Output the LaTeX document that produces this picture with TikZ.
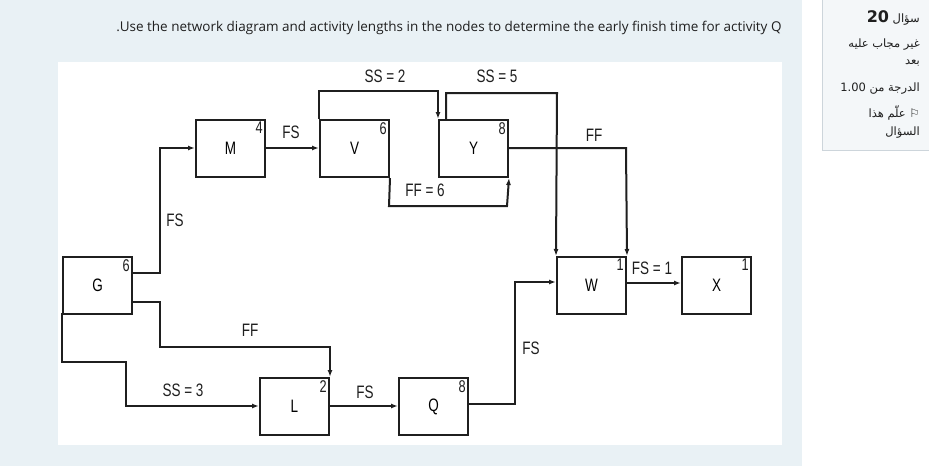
\documentclass[tikz,border=0pt]{standalone}
\usepackage{fontspec}
\setmainfont{Liberation Sans}
\newfontfamily\arabicfont[Script=Arabic]{DejaVu Sans}
\newfontfamily\titlefont{Open Sans}
\newfontfamily\narrowfont[FakeStretch=0.75]{Liberation Sans}
\TeXXeTstate=1
\definecolor{panel}{HTML}{E9F1F5}
\definecolor{side}{HTML}{F4F7F9}
\definecolor{sideborder}{HTML}{CDD5DB}
\definecolor{ink}{HTML}{1F1F1F}
\begin{document}
\begin{tikzpicture}[x=1pt,y=-1pt,
  act/.style={draw=ink,line width=2pt,minimum width=69pt,minimum height=57pt,anchor=north west,inner sep=0pt,font=\narrowfont\fontsize{18}{18}\selectfont},
  lnk/.style={draw=ink,line width=2pt,-{Latex[length=7pt,width=5pt]}},
  lab/.style={font=\narrowfont\fontsize{18}{18}\selectfont,text=ink,inner sep=0pt},
  num/.style={font=\narrowfont\fontsize{17}{17}\selectfont,text=ink,inner sep=0pt},
  ar/.style={font=\arabicfont\fontsize{11.5}{13}\selectfont,text=ink,anchor=east,inner sep=0pt}]
\usetikzlibrary{arrows.meta}
\useasboundingbox (0,0) rectangle (929,466);
\fill[white] (0,0) rectangle (929,466);
\fill[panel] (0,0) rectangle (802,466);
\fill[white] (58,62) rectangle (782,445);
\filldraw[fill=side,draw=sideborder] (822,-1) rectangle (929,150);
\node[font=\titlefont\fontsize{13.5}{15}\selectfont,text=ink,inner sep=0pt] (title) at (449,28) {.Use the network diagram and activity lengths in the nodes to determine the early finish time for activity Q};
% activities
\node[act] (G) at (62,256) {G};
\node[act] (M) at (195,119) {M};
\node[act] (V) at (319,119) {V};
\node[act] (Y) at (438,119) {Y};
\node[act] (W) at (556,256) {W};
\node[act] (X) at (681,256) {X};
\node[act] (L) at (259,377) {L};
\node[act] (Q) at (398,377) {Q};
\node[num,anchor=north east] (nG) at ([shift={(-3,3)}]G.north east) {6};
\node[num,anchor=north east] (nM) at ([shift={(-3,3)}]M.north east) {4};
\node[num,anchor=north east] (nV) at ([shift={(-3,3)}]V.north east) {6};
\node[num,anchor=north east] (nY) at ([shift={(-3,3)}]Y.north east) {8};
\node[num,anchor=north east] (nW) at ([shift={(-3,3)}]W.north east) {1};
\node[num,anchor=north east] (nX) at ([shift={(-3,3)}]X.north east) {1};
\node[num,anchor=north east] (nL) at ([shift={(-3,3)}]L.north east) {2};
\node[num,anchor=north east] (nQ) at ([shift={(-3,3)}]Q.north east) {8};
% connectors
\draw[lnk] (G.north east |- 0,273) -- (160,273) -- (160,148) -- (M.west |- 0,148);
\draw[lnk] (G.north east |- 0,302) -- (160,302) -- (160,347) -- (L.north east |- 0,347) -- (L.north east);
\draw[lnk] (62,313) -- (62,362) -- (126,362) -- (126,406) -- (L.west |- 0,406);
\draw[lnk] (L.east |- 0,406) -- (Q.west |- 0,406);
\draw[lnk] (Q.east |- 0,404) -- (515,404) -- (515,282) -- (W.west |- 0,282);
\draw[lnk] (W.east |- 0,283) -- (X.west |- 0,283);
\draw[lnk] (M.east |- 0,148) -- (V.west |- 0,148);
\draw[lnk] (V.north west) -- (319,91) -- (438,91) -- (Y.north west);
\draw[lnk] (446,119) -- (446,93) -- (557,93) -- (W.north west);
\draw[lnk] (V.south east) -- (389,206) -- (507,206) -- (Y.south east);
\draw[lnk] (Y.east |- 0,148) -- (626,148) -- (W.north east);
% labels
\node[lab] (l1) at (175,220) {FS};
\node[lab] (l2) at (250,330) {FF};
\node[lab] (l3) at (183,390) {SS = 3};
\node[lab] (l4) at (365,392) {FS};
\node[lab] (l5) at (531,348) {FS};
\node[lab] (l6) at (652,268) {FS = 1};
\node[lab] (l7) at (291,132) {FS};
\node[lab] (l8) at (385,76) {SS = 2};
\node[lab] (l9) at (497,76) {SS = 5};
\node[lab] (l10) at (425,190) {FF = 6};
\node[lab] (l11) at (594,135) {FF};
% side panel
\node[ar] (s1) at (920,18) {\beginR سؤال \beginL{\fontsize{16}{16}\selectfont\bfseries 20}\endL\endR};
\node[ar] (s2) at (920,45) {\beginR غير مجاب عليه\endR};
\node[ar] (s3) at (920,63) {\beginR بعد\endR};
\node[ar] (s4) at (920,89) {\beginR الدرجة من \beginL 1.00\endL\endR};
\node[ar] (s5) at (920,113) {\beginR ⚐ علّم هذا\endR};
\node[ar] (s6) at (920,133) {\beginR السؤال\endR};
\end{tikzpicture}
\end{document}
